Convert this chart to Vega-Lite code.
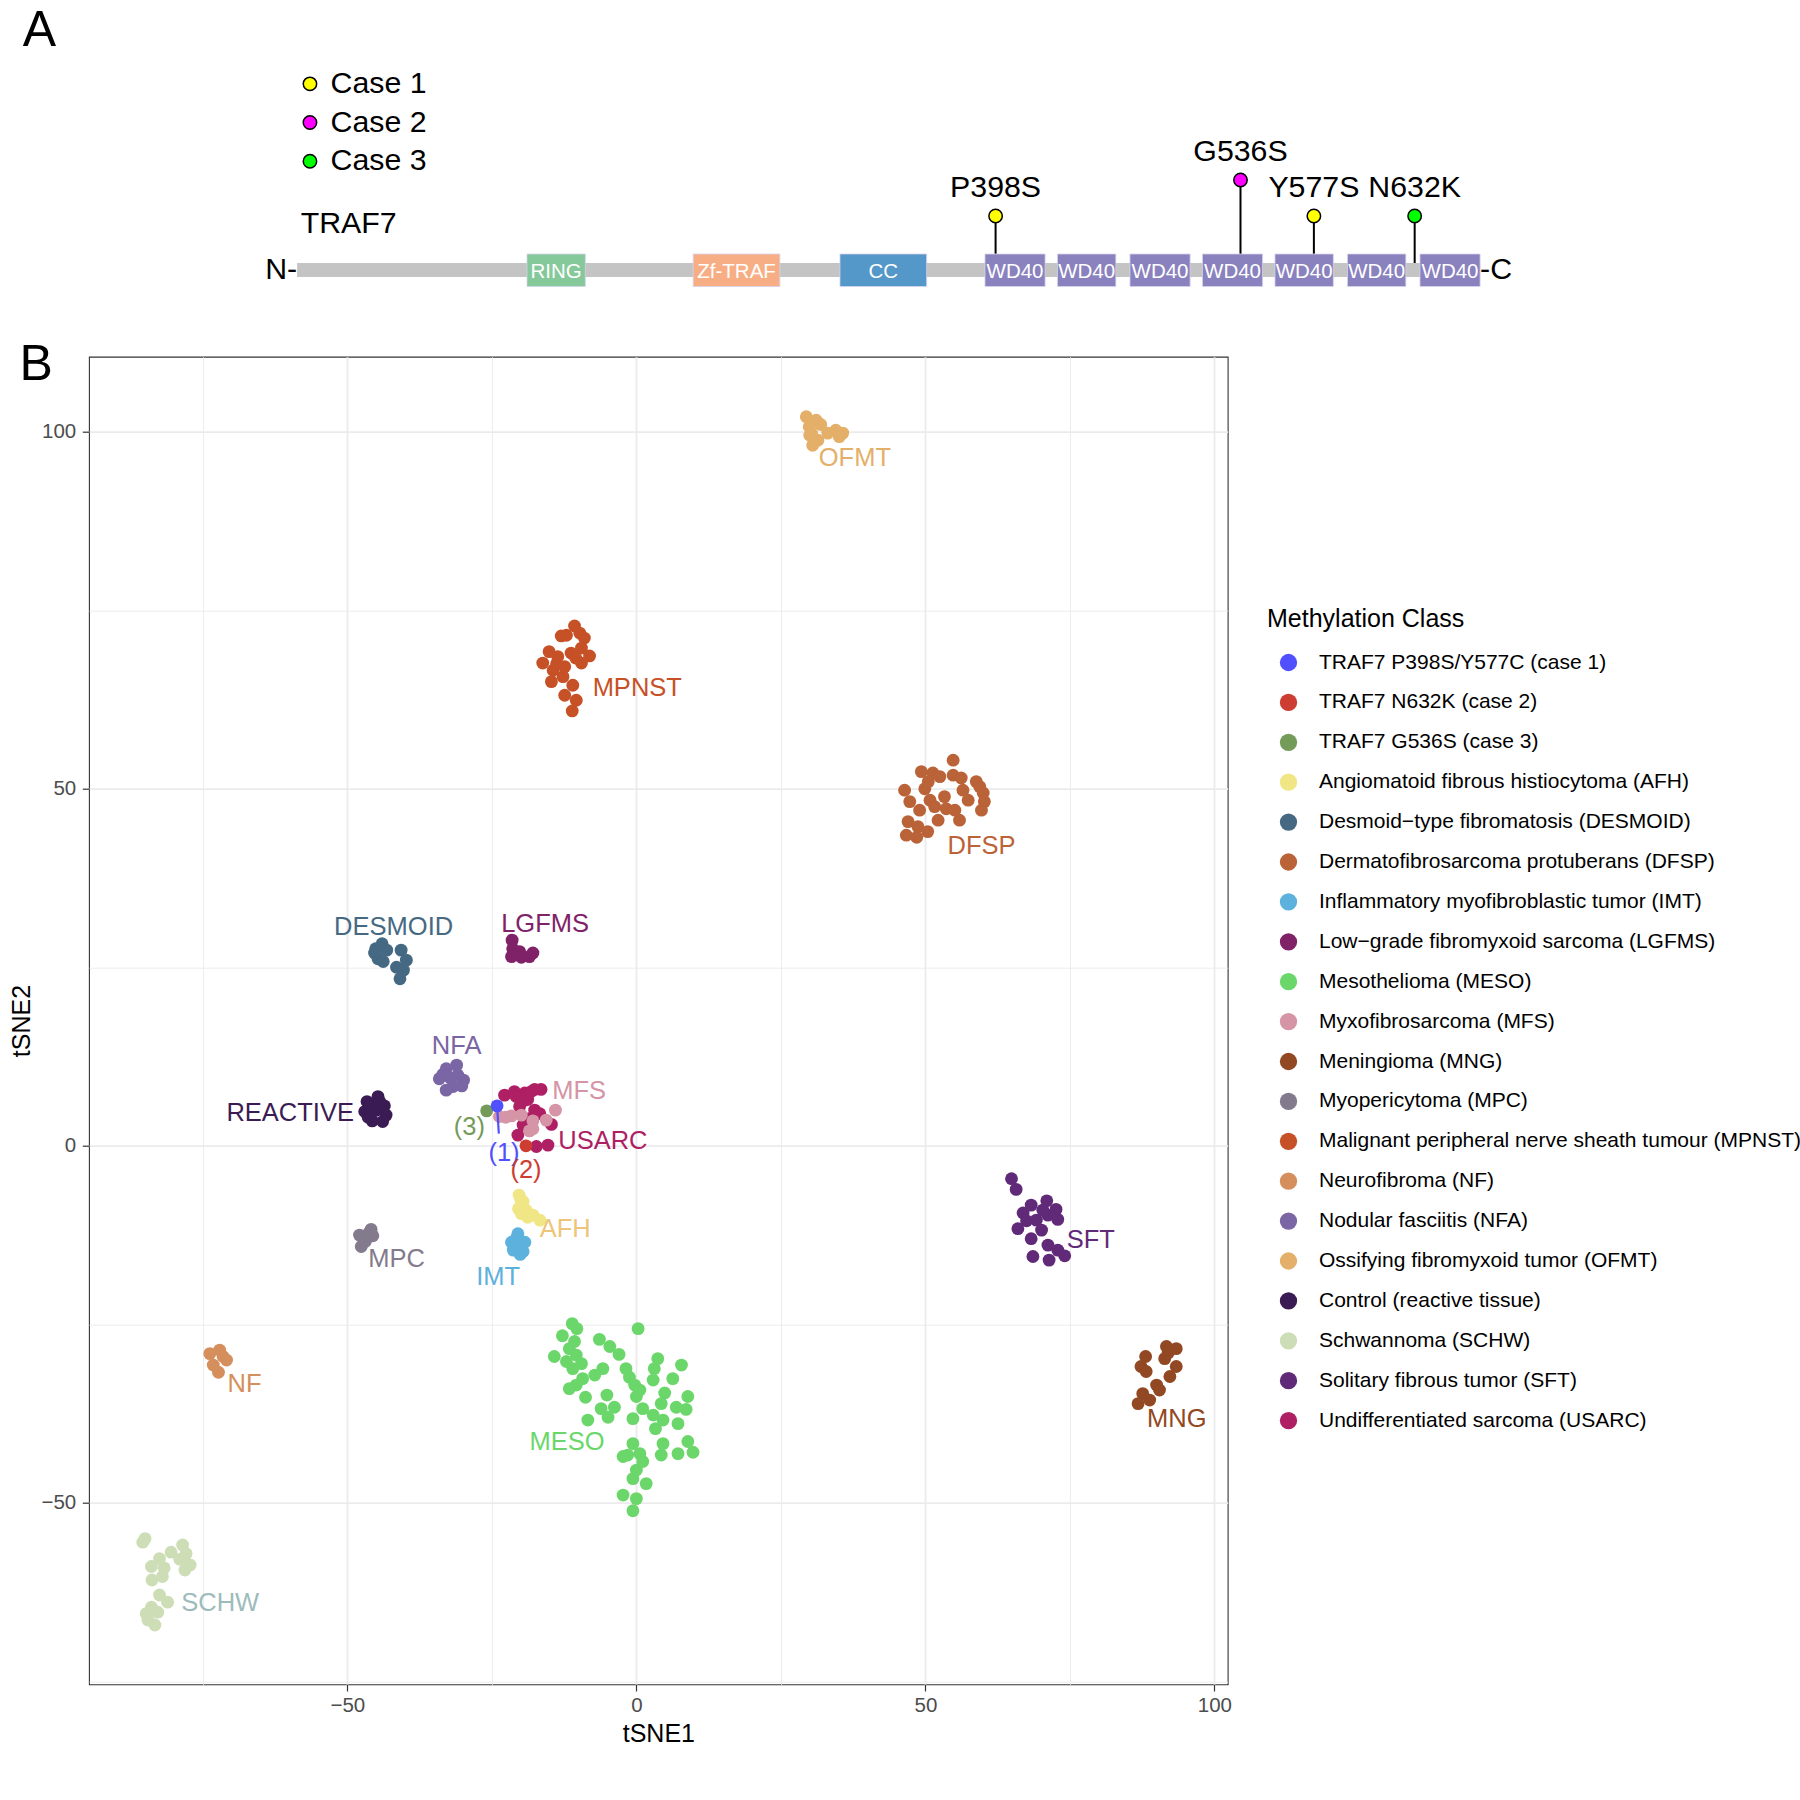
{
"$schema": "https://vega.github.io/schema/vega-lite/v6.json",
"padding": {"left": 9, "top": 0, "right": 5, "bottom": 5},
"background": "white",
"bounds": "flush",
"spacing": 56.7,
"config": {
  "font": "Liberation Sans",
  "view": {"stroke": "#333333", "strokeWidth": 1.1},
  "title": {"fontWeight": "normal", "color": "black"}
},
"resolve": {
  "scale": {"x": "independent", "y": "independent", "color": "independent", "fill": "independent"},
  "legend": {"color": "independent", "fill": "independent"}
},
"datasets": {
  "dom": [
    {"d": "RING", "s": 131, "e": 164, "m": 147.5},
    {"d": "Zf-TRAF", "s": 225, "e": 274, "m": 249.5},
    {"d": "CC", "s": 308, "e": 357, "m": 332.5},
    {"d": "WD40", "s": 390, "e": 424, "m": 407},
    {"d": "WD40", "s": 431, "e": 464, "m": 447.5},
    {"d": "WD40", "s": 472, "e": 506, "m": 489},
    {"d": "WD40", "s": 513, "e": 547, "m": 530},
    {"d": "WD40", "s": 554, "e": 587, "m": 570.5},
    {"d": "WD40", "s": 595, "e": 628, "m": 611.5},
    {"d": "WD40", "s": 636, "e": 670, "m": 653}
  ],
  "mut": [
    {"t": "P398S", "p": 396, "h": 54, "case": "Case 1"},
    {"t": "G536S", "p": 534.5, "h": 90, "case": "Case 2"},
    {"t": "Y577S", "p": 576, "h": 54, "case": "Case 1"},
    {"t": "N632K", "p": 633, "h": 54, "case": "Case 3"}
  ],
  "classes": [
    {"c": "C1", "name": "TRAF7 P398S/Y577C (case 1)"},
    {"c": "C2", "name": "TRAF7 N632K (case 2)"},
    {"c": "C3", "name": "TRAF7 G536S (case 3)"},
    {"c": "AFH", "name": "Angiomatoid fibrous histiocytoma (AFH)"},
    {"c": "DESMOID", "name": "Desmoid−type fibromatosis (DESMOID)"},
    {"c": "DFSP", "name": "Dermatofibrosarcoma protuberans (DFSP)"},
    {"c": "IMT", "name": "Inflammatory myofibroblastic tumor (IMT)"},
    {"c": "LGFMS", "name": "Low−grade fibromyxoid sarcoma (LGFMS)"},
    {"c": "MESO", "name": "Mesothelioma (MESO)"},
    {"c": "MFS", "name": "Myxofibrosarcoma (MFS)"},
    {"c": "MNG", "name": "Meningioma (MNG)"},
    {"c": "MPC", "name": "Myopericytoma (MPC)"},
    {"c": "MPNST", "name": "Malignant peripheral nerve sheath tumour (MPNST)"},
    {"c": "NF", "name": "Neurofibroma (NF)"},
    {"c": "NFA", "name": "Nodular fasciitis (NFA)"},
    {"c": "OFMT", "name": "Ossifying fibromyxoid tumor (OFMT)"},
    {"c": "REACTIVE", "name": "Control (reactive tissue)"},
    {"c": "SCHW", "name": "Schwannoma (SCHW)"},
    {"c": "SFT", "name": "Solitary fibrous tumor (SFT)"},
    {"c": "USARC", "name": "Undifferentiated sarcoma (USARC)"}
  ],
  "labels": [
    {"t": "OFMT", "x": 37.8, "y": 96.3},
    {"t": "MPNST", "x": 0.15, "y": 64.1},
    {"t": "DFSP", "x": 59.7, "y": 42.0},
    {"t": "DESMOID", "x": -42.0, "y": 30.7},
    {"t": "LGFMS", "x": -15.8, "y": 31.0},
    {"t": "NFA", "x": -31.1, "y": 14.0},
    {"t": "REACTIVE", "x": -59.9, "y": 4.6},
    {"t": "MFS", "x": -9.9, "y": 7.7},
    {"t": "USARC", "x": -5.8, "y": 0.7},
    {"t": "(3)", "x": -28.9, "y": 2.6},
    {"t": "(1)", "x": -22.9, "y": -1.0},
    {"t": "(2)", "x": -19.1, "y": -3.4},
    {"t": "AFH", "x": -12.3, "y": -11.7},
    {"t": "IMT", "x": -23.9, "y": -18.3},
    {"t": "MPC", "x": -41.5, "y": -15.9},
    {"t": "SFT", "x": 78.6, "y": -13.2},
    {"t": "MESO", "x": -12.0, "y": -41.5},
    {"t": "NF", "x": -67.8, "y": -33.3},
    {"t": "MNG", "x": 93.5, "y": -38.3},
    {"t": "SCHW", "x": -72.0, "y": -64.0}
  ],
  "pts": [
    {"x": -46.6, "y": 6.2, "c": "REACTIVE"}, {"x": -44.7, "y": 6.9, "c": "REACTIVE"}, {"x": -43.6, "y": 5.6, "c": "REACTIVE"},
    {"x": -47.0, "y": 4.8, "c": "REACTIVE"}, {"x": -45.0, "y": 5.0, "c": "REACTIVE"}, {"x": -43.3, "y": 4.3, "c": "REACTIVE"},
    {"x": -45.7, "y": 3.5, "c": "REACTIVE"}, {"x": -43.9, "y": 3.4, "c": "REACTIVE"}, {"x": -46.0, "y": 5.7, "c": "REACTIVE"},
    {"x": -44.4, "y": 6.2, "c": "REACTIVE"}, {"x": -46.4, "y": 4.0, "c": "REACTIVE"},
    {"x": -34.1, "y": 9.4, "c": "NFA"}, {"x": -32.9, "y": 10.8, "c": "NFA"}, {"x": -31.1, "y": 11.3, "c": "NFA"},
    {"x": -29.9, "y": 9.2, "c": "NFA"}, {"x": -31.7, "y": 8.3, "c": "NFA"}, {"x": -32.9, "y": 7.8, "c": "NFA"},
    {"x": -30.9, "y": 9.9, "c": "NFA"}, {"x": -33.5, "y": 10.0, "c": "NFA"}, {"x": -30.2, "y": 8.4, "c": "NFA"},
    {"x": -32.2, "y": 9.5, "c": "NFA"},
    {"x": -47.9, "y": -12.5, "c": "MPC"}, {"x": -45.9, "y": -11.7, "c": "MPC"}, {"x": -46.7, "y": -13.0, "c": "MPC"},
    {"x": -47.6, "y": -14.1, "c": "MPC"}, {"x": -45.6, "y": -12.6, "c": "MPC"}, {"x": -46.9, "y": -13.4, "c": "MPC"},
    {"x": -46.3, "y": -12.2, "c": "MPC"},
    {"x": -20.5, "y": -12.3, "c": "IMT"}, {"x": -21.6, "y": -13.5, "c": "IMT"}, {"x": -19.3, "y": -13.5, "c": "IMT"},
    {"x": -21.3, "y": -14.6, "c": "IMT"}, {"x": -19.6, "y": -14.8, "c": "IMT"}, {"x": -20.5, "y": -14.1, "c": "IMT"},
    {"x": -20.8, "y": -13.0, "c": "IMT"}, {"x": -20.1, "y": -15.2, "c": "IMT"},
    {"x": -20.3, "y": -6.9, "c": "AFH"}, {"x": -19.6, "y": -7.8, "c": "AFH"}, {"x": -20.4, "y": -8.8, "c": "AFH"},
    {"x": -19.1, "y": -9.0, "c": "AFH"}, {"x": -17.9, "y": -9.7, "c": "AFH"}, {"x": -16.7, "y": -10.4, "c": "AFH"},
    {"x": -18.8, "y": -10.0, "c": "AFH"}, {"x": -19.9, "y": -9.5, "c": "AFH"}, {"x": -20.0, "y": -7.5, "c": "AFH"},
    {"x": -22.8, "y": 7.1, "c": "USARC"}, {"x": -21.1, "y": 7.6, "c": "USARC"}, {"x": -19.3, "y": 7.4, "c": "USARC"},
    {"x": -17.6, "y": 7.9, "c": "USARC"}, {"x": -16.5, "y": 7.9, "c": "USARC"}, {"x": -18.8, "y": 6.5, "c": "USARC"},
    {"x": -20.2, "y": 5.5, "c": "USARC"}, {"x": -17.6, "y": 5.0, "c": "USARC"}, {"x": -16.7, "y": 4.5, "c": "USARC"},
    {"x": -18.5, "y": 3.8, "c": "USARC"}, {"x": -19.6, "y": 2.9, "c": "USARC"}, {"x": -14.7, "y": 3.0, "c": "USARC"},
    {"x": -20.5, "y": 1.5, "c": "USARC"}, {"x": -17.3, "y": -0.1, "c": "USARC"}, {"x": -15.3, "y": 0.1, "c": "USARC"},
    {"x": -19.3, "y": 6.4, "c": "USARC"}, {"x": -20.8, "y": 6.9, "c": "USARC"}, {"x": -18.2, "y": 7.6, "c": "USARC"},
    {"x": -23.7, "y": 4.1, "c": "MFS"}, {"x": -21.6, "y": 4.2, "c": "MFS"}, {"x": -19.9, "y": 4.3, "c": "MFS"},
    {"x": -17.9, "y": 3.5, "c": "MFS"}, {"x": -15.6, "y": 3.6, "c": "MFS"}, {"x": -14.0, "y": 5.0, "c": "MFS"},
    {"x": -18.5, "y": 2.1, "c": "MFS"}, {"x": -17.9, "y": 2.4, "c": "MFS"}, {"x": -22.6, "y": 4.0, "c": "MFS"},
    {"x": -45.1, "y": 27.6, "c": "DESMOID"}, {"x": -44.0, "y": 28.3, "c": "DESMOID"}, {"x": -43.2, "y": 27.4, "c": "DESMOID"},
    {"x": -44.7, "y": 26.2, "c": "DESMOID"}, {"x": -43.8, "y": 25.8, "c": "DESMOID"}, {"x": -40.7, "y": 27.4, "c": "DESMOID"},
    {"x": -39.8, "y": 26.0, "c": "DESMOID"}, {"x": -41.5, "y": 25.0, "c": "DESMOID"}, {"x": -40.3, "y": 24.6, "c": "DESMOID"},
    {"x": -40.9, "y": 23.4, "c": "DESMOID"}, {"x": -45.3, "y": 27.0, "c": "DESMOID"},
    {"x": -21.5, "y": 28.8, "c": "LGFMS"}, {"x": -21.4, "y": 27.6, "c": "LGFMS"}, {"x": -20.2, "y": 27.2, "c": "LGFMS"},
    {"x": -21.6, "y": 26.5, "c": "LGFMS"}, {"x": -19.9, "y": 26.4, "c": "LGFMS"}, {"x": -17.9, "y": 27.0, "c": "LGFMS"},
    {"x": -18.5, "y": 26.5, "c": "LGFMS"},
    {"x": -10.7, "y": 72.8, "c": "MPNST"}, {"x": -13.0, "y": 71.4, "c": "MPNST"}, {"x": -12.1, "y": 71.5, "c": "MPNST"},
    {"x": -9.8, "y": 71.8, "c": "MPNST"}, {"x": -9.0, "y": 71.1, "c": "MPNST"}, {"x": -15.1, "y": 69.2, "c": "MPNST"},
    {"x": -16.2, "y": 67.6, "c": "MPNST"}, {"x": -13.6, "y": 68.5, "c": "MPNST"}, {"x": -11.3, "y": 69.0, "c": "MPNST"},
    {"x": -9.5, "y": 69.7, "c": "MPNST"}, {"x": -8.1, "y": 68.6, "c": "MPNST"}, {"x": -9.5, "y": 67.6, "c": "MPNST"},
    {"x": -14.4, "y": 66.6, "c": "MPNST"}, {"x": -12.4, "y": 67.1, "c": "MPNST"}, {"x": -12.7, "y": 65.7, "c": "MPNST"},
    {"x": -14.7, "y": 65.0, "c": "MPNST"}, {"x": -11.0, "y": 64.5, "c": "MPNST"}, {"x": -12.4, "y": 63.1, "c": "MPNST"},
    {"x": -10.4, "y": 62.4, "c": "MPNST"}, {"x": -11.1, "y": 60.9, "c": "MPNST"}, {"x": -10.5, "y": 68.3, "c": "MPNST"},
    {"x": -13.8, "y": 67.5, "c": "MPNST"},
    {"x": 54.8, "y": 54.0, "c": "DFSP"}, {"x": 49.3, "y": 52.4, "c": "DFSP"}, {"x": 51.3, "y": 52.2, "c": "DFSP"},
    {"x": 52.5, "y": 51.7, "c": "DFSP"}, {"x": 54.8, "y": 51.9, "c": "DFSP"}, {"x": 56.2, "y": 51.5, "c": "DFSP"},
    {"x": 58.8, "y": 51.0, "c": "DFSP"}, {"x": 59.4, "y": 50.3, "c": "DFSP"}, {"x": 46.4, "y": 49.8, "c": "DFSP"},
    {"x": 49.9, "y": 50.0, "c": "DFSP"}, {"x": 53.3, "y": 48.9, "c": "DFSP"}, {"x": 56.5, "y": 49.8, "c": "DFSP"},
    {"x": 60.0, "y": 49.4, "c": "DFSP"}, {"x": 60.2, "y": 48.2, "c": "DFSP"}, {"x": 47.3, "y": 48.2, "c": "DFSP"},
    {"x": 50.8, "y": 48.4, "c": "DFSP"}, {"x": 51.6, "y": 47.5, "c": "DFSP"}, {"x": 57.4, "y": 48.4, "c": "DFSP"},
    {"x": 49.0, "y": 47.0, "c": "DFSP"}, {"x": 53.6, "y": 47.2, "c": "DFSP"}, {"x": 55.1, "y": 47.0, "c": "DFSP"},
    {"x": 59.7, "y": 47.0, "c": "DFSP"}, {"x": 47.0, "y": 45.4, "c": "DFSP"}, {"x": 52.2, "y": 45.6, "c": "DFSP"},
    {"x": 55.9, "y": 45.6, "c": "DFSP"}, {"x": 48.7, "y": 44.7, "c": "DFSP"}, {"x": 50.4, "y": 44.0, "c": "DFSP"},
    {"x": 46.7, "y": 43.5, "c": "DFSP"}, {"x": 48.5, "y": 43.2, "c": "DFSP"}, {"x": 50.5, "y": 51.0, "c": "DFSP"},
    {"x": 29.4, "y": 102.1, "c": "OFMT"}, {"x": 31.1, "y": 101.6, "c": "OFMT"}, {"x": 31.9, "y": 101.0, "c": "OFMT"},
    {"x": 29.9, "y": 100.7, "c": "OFMT"}, {"x": 30.3, "y": 99.8, "c": "OFMT"}, {"x": 31.4, "y": 98.8, "c": "OFMT"},
    {"x": 30.5, "y": 98.1, "c": "OFMT"}, {"x": 33.1, "y": 99.8, "c": "OFMT"}, {"x": 34.5, "y": 100.2, "c": "OFMT"},
    {"x": 35.7, "y": 99.8, "c": "OFMT"}, {"x": 35.1, "y": 99.3, "c": "OFMT"}, {"x": 30.0, "y": 99.5, "c": "OFMT"},
    {"x": 64.9, "y": -4.6, "c": "SFT"}, {"x": 65.7, "y": -6.1, "c": "SFT"}, {"x": 68.3, "y": -8.3, "c": "SFT"},
    {"x": 66.9, "y": -9.4, "c": "SFT"}, {"x": 71.0, "y": -7.7, "c": "SFT"}, {"x": 72.6, "y": -8.9, "c": "SFT"},
    {"x": 66.0, "y": -11.6, "c": "SFT"}, {"x": 69.2, "y": -10.4, "c": "SFT"}, {"x": 71.2, "y": -9.7, "c": "SFT"},
    {"x": 72.9, "y": -10.3, "c": "SFT"}, {"x": 68.3, "y": -13.0, "c": "SFT"}, {"x": 70.1, "y": -11.8, "c": "SFT"},
    {"x": 71.2, "y": -13.9, "c": "SFT"}, {"x": 68.6, "y": -15.5, "c": "SFT"}, {"x": 71.4, "y": -16.0, "c": "SFT"},
    {"x": 74.1, "y": -15.4, "c": "SFT"}, {"x": 72.9, "y": -14.6, "c": "SFT"}, {"x": 70.3, "y": -9.0, "c": "SFT"},
    {"x": 67.5, "y": -10.5, "c": "SFT"},
    {"x": 91.7, "y": -28.1, "c": "MNG"}, {"x": 93.4, "y": -28.4, "c": "MNG"}, {"x": 88.1, "y": -29.5, "c": "MNG"},
    {"x": 91.4, "y": -29.8, "c": "MNG"}, {"x": 87.3, "y": -30.9, "c": "MNG"}, {"x": 93.4, "y": -30.9, "c": "MNG"},
    {"x": 88.2, "y": -31.6, "c": "MNG"}, {"x": 92.3, "y": -32.3, "c": "MNG"}, {"x": 90.0, "y": -33.5, "c": "MNG"},
    {"x": 90.5, "y": -34.2, "c": "MNG"}, {"x": 87.6, "y": -34.7, "c": "MNG"}, {"x": 88.8, "y": -35.6, "c": "MNG"},
    {"x": 86.8, "y": -36.1, "c": "MNG"}, {"x": 92.0, "y": -29.0, "c": "MNG"},
    {"x": -73.8, "y": -29.1, "c": "NF"}, {"x": -72.1, "y": -28.6, "c": "NF"}, {"x": -70.9, "y": -30.0, "c": "NF"},
    {"x": -73.2, "y": -30.7, "c": "NF"}, {"x": -72.3, "y": -31.7, "c": "NF"}, {"x": -71.5, "y": -29.5, "c": "NF"},
    {"x": -85.4, "y": -55.5, "c": "SCHW"}, {"x": -80.5, "y": -56.9, "c": "SCHW"}, {"x": -78.5, "y": -55.9, "c": "SCHW"},
    {"x": -77.9, "y": -57.1, "c": "SCHW"}, {"x": -82.5, "y": -57.8, "c": "SCHW"}, {"x": -83.9, "y": -58.9, "c": "SCHW"},
    {"x": -79.0, "y": -57.9, "c": "SCHW"}, {"x": -77.2, "y": -58.7, "c": "SCHW"}, {"x": -81.7, "y": -59.1, "c": "SCHW"},
    {"x": -78.1, "y": -59.4, "c": "SCHW"}, {"x": -82.0, "y": -60.3, "c": "SCHW"}, {"x": -83.8, "y": -60.8, "c": "SCHW"},
    {"x": -82.5, "y": -62.9, "c": "SCHW"}, {"x": -81.1, "y": -63.9, "c": "SCHW"}, {"x": -83.9, "y": -64.6, "c": "SCHW"},
    {"x": -84.8, "y": -65.5, "c": "SCHW"}, {"x": -82.8, "y": -65.3, "c": "SCHW"}, {"x": -84.5, "y": -66.4, "c": "SCHW"},
    {"x": -83.3, "y": -67.1, "c": "SCHW"}, {"x": -85.0, "y": -55.0, "c": "SCHW"},
    {"x": -11.1, "y": -24.9, "c": "MESO"}, {"x": -10.3, "y": -25.6, "c": "MESO"}, {"x": -12.8, "y": -26.6, "c": "MESO"},
    {"x": -10.7, "y": -27.4, "c": "MESO"}, {"x": -11.6, "y": -28.4, "c": "MESO"}, {"x": -14.2, "y": -29.5, "c": "MESO"},
    {"x": -10.4, "y": -29.3, "c": "MESO"}, {"x": -12.1, "y": -30.2, "c": "MESO"}, {"x": -9.5, "y": -30.5, "c": "MESO"},
    {"x": -11.0, "y": -31.2, "c": "MESO"}, {"x": -6.4, "y": -27.1, "c": "MESO"}, {"x": -4.6, "y": -28.1, "c": "MESO"},
    {"x": -3.0, "y": -29.2, "c": "MESO"}, {"x": -5.8, "y": -31.2, "c": "MESO"}, {"x": -7.2, "y": -32.1, "c": "MESO"},
    {"x": -9.3, "y": -32.6, "c": "MESO"}, {"x": -10.4, "y": -33.5, "c": "MESO"}, {"x": -11.6, "y": -34.0, "c": "MESO"},
    {"x": -8.8, "y": -35.2, "c": "MESO"}, {"x": -5.1, "y": -34.9, "c": "MESO"}, {"x": -3.8, "y": -36.6, "c": "MESO"},
    {"x": -6.1, "y": -36.8, "c": "MESO"}, {"x": -4.9, "y": -38.0, "c": "MESO"}, {"x": -8.4, "y": -38.4, "c": "MESO"},
    {"x": 0.3, "y": -25.6, "c": "MESO"}, {"x": -1.8, "y": -31.2, "c": "MESO"}, {"x": -1.2, "y": -32.4, "c": "MESO"},
    {"x": -0.3, "y": -33.5, "c": "MESO"}, {"x": 0.6, "y": -34.2, "c": "MESO"}, {"x": 0.0, "y": -35.1, "c": "MESO"},
    {"x": 1.1, "y": -36.8, "c": "MESO"}, {"x": -0.6, "y": -38.2, "c": "MESO"}, {"x": 2.9, "y": -37.7, "c": "MESO"},
    {"x": 3.7, "y": -29.8, "c": "MESO"}, {"x": 3.1, "y": -31.2, "c": "MESO"}, {"x": 2.9, "y": -32.8, "c": "MESO"},
    {"x": 4.9, "y": -34.6, "c": "MESO"}, {"x": 4.3, "y": -36.1, "c": "MESO"}, {"x": 4.6, "y": -38.4, "c": "MESO"},
    {"x": 3.3, "y": -39.6, "c": "MESO"}, {"x": 7.8, "y": -30.7, "c": "MESO"}, {"x": 6.3, "y": -32.6, "c": "MESO"},
    {"x": 8.9, "y": -35.1, "c": "MESO"}, {"x": 6.9, "y": -36.6, "c": "MESO"}, {"x": 8.6, "y": -36.9, "c": "MESO"},
    {"x": 7.2, "y": -38.9, "c": "MESO"}, {"x": -0.6, "y": -41.7, "c": "MESO"}, {"x": -2.3, "y": -43.5, "c": "MESO"},
    {"x": 0.6, "y": -43.1, "c": "MESO"}, {"x": 1.1, "y": -44.2, "c": "MESO"}, {"x": 0.0, "y": -45.4, "c": "MESO"},
    {"x": -0.6, "y": -46.6, "c": "MESO"}, {"x": 1.7, "y": -47.3, "c": "MESO"}, {"x": -2.3, "y": -48.9, "c": "MESO"},
    {"x": 0.0, "y": -49.4, "c": "MESO"}, {"x": -0.6, "y": -51.1, "c": "MESO"}, {"x": 4.6, "y": -41.7, "c": "MESO"},
    {"x": 4.3, "y": -43.3, "c": "MESO"}, {"x": 7.2, "y": -43.1, "c": "MESO"}, {"x": 8.9, "y": -41.4, "c": "MESO"},
    {"x": 9.8, "y": -42.9, "c": "MESO"}, {"x": -1.5, "y": -43.3, "c": "MESO"},
    {"x": -25.9, "y": 4.9, "c": "C3"}, {"x": -24.1, "y": 5.6, "c": "C1"}, {"x": -19.1, "y": 0.0, "c": "C2"}
  ]
},
"vconcat": [
  {
    "width": 1430,
    "height": 300,
    "view": {"stroke": null},
    "title": {"text": "A", "fontSize": 50, "anchor": "start", "frame": "group", "dx": -66.3, "offset": -96, "baseline": "alphabetic"},
    "layer": [
      {
        "data": {"name": "mut"},
        "mark": {"type": "rule", "color": "black", "strokeWidth": 2},
        "encoding": {
          "x": {"field": "p", "type": "quantitative", "scale": {"domain": [-116.7, 692], "nice": false, "zero": false}, "axis": null},
          "y": {"field": "h", "type": "quantitative", "scale": {"domain": [-30, 270], "nice": false, "zero": false}, "axis": null},
          "y2": {"datum": 0}
        }
      },
      {
        "data": {"values": [{"s": 1, "e": 670}]},
        "mark": {"type": "rect", "color": "#C4C4C4"},
        "encoding": {
          "x": {"field": "s", "type": "quantitative"},
          "x2": {"field": "e"},
          "y": {"datum": -7, "type": "quantitative"},
          "y2": {"datum": 7}
        }
      },
      {
        "data": {"name": "dom"},
        "mark": {"type": "rect", "stroke": "#d6d3ec", "strokeWidth": 0.8},
        "encoding": {
          "x": {"field": "s", "type": "quantitative"},
          "x2": {"field": "e"},
          "y": {"datum": -16.5, "type": "quantitative"},
          "y2": {"datum": 16},
          "color": {"field": "d", "type": "nominal", "scale": {"domain": ["RING", "Zf-TRAF", "CC", "WD40"], "range": ["#85C99A", "#F8AE84", "#5497C9", "#8A82BE"]}, "legend": null}
        }
      },
      {
        "data": {"name": "dom"},
        "mark": {"type": "text", "color": "white", "fontSize": 20.5, "baseline": "middle", "dy": 1.5},
        "encoding": {
          "x": {"field": "m", "type": "quantitative"},
          "y": {"datum": 0, "type": "quantitative"},
          "text": {"field": "d"}
        }
      },
      {
        "data": {"name": "mut"},
        "mark": {"type": "circle", "size": 180, "stroke": "black", "strokeWidth": 1.5, "opacity": 1},
        "encoding": {
          "x": {"field": "p", "type": "quantitative"},
          "y": {"field": "h", "type": "quantitative"},
          "fill": {
            "field": "case", "type": "nominal",
            "scale": {"domain": ["Case 1", "Case 2", "Case 3"], "range": ["#FFFF00", "#FF00FF", "#00FF00"]},
            "legend": {"title": null, "orient": "none", "legendX": 205.8, "legendY": 68.7, "padding": 0,
              "labelFontSize": 30.3, "labelColor": "black", "labelOffset": 5.5, "rowPadding": 7.7,
              "symbolType": "circle", "symbolSize": 180, "symbolStrokeColor": "black", "symbolStrokeWidth": 1.5, "symbolOpacity": 1}
          }
        }
      },
      {
        "data": {"name": "mut"},
        "mark": {"type": "text", "fontSize": 30.3, "baseline": "middle", "dy": -28.4, "color": "black"},
        "encoding": {
          "x": {"field": "p", "type": "quantitative"},
          "y": {"field": "h", "type": "quantitative"},
          "text": {"field": "t"}
        }
      },
      {
        "data": {"values": [{"t": "N-", "p": 1, "h": 0}]},
        "mark": {"type": "text", "fontSize": 30.3, "baseline": "middle", "align": "right", "color": "black"},
        "encoding": {
          "x": {"field": "p", "type": "quantitative"},
          "y": {"field": "h", "type": "quantitative"},
          "text": {"field": "t"}
        }
      },
      {
        "data": {"values": [{"t": "-C", "p": 670, "h": 0}, {"t": "TRAF7", "p": 3, "h": 46}]},
        "mark": {"type": "text", "fontSize": 30.3, "baseline": "middle", "align": "left", "color": "black"},
        "encoding": {
          "x": {"field": "p", "type": "quantitative"},
          "y": {"field": "h", "type": "quantitative"},
          "text": {"field": "t"}
        }
      }
    ]
  },
  {
    "width": 1138.7,
    "height": 1327.6,
    "title": {"text": "B", "fontSize": 50, "anchor": "start", "frame": "group", "dx": -69.5, "offset": -73.3, "baseline": "alphabetic"},
    "layer": [
      {
        "data": {"name": "pts"},
        "transform": [{"lookup": "c", "from": {"data": {"name": "classes"}, "key": "c", "fields": ["name"]}}],
        "mark": {"type": "circle", "size": 165, "opacity": 1},
        "encoding": {
          "x": {
            "field": "x", "type": "quantitative",
            "scale": {"domain": [-94.7, 102.3], "nice": false, "zero": false},
            "axis": {
              "title": "tSNE1", "values": [-75, -50, -25, 0, 25, 50, 75, 100],
              "labelExpr": "datum.value % 50 === 0 ? datum.label : ''",
              "grid": true, "gridColor": "#EBEBEB",
              "gridWidth": {"condition": {"test": "datum.value % 50 === 0", "value": 1.8}, "value": 0.9},
              "tickOpacity": {"condition": {"test": "datum.value % 50 === 0", "value": 1}, "value": 0},
              "tickColor": "#333333", "tickSize": 6.7, "tickWidth": 1.2, "domain": false,
              "labelFontSize": 20.5, "labelColor": "#4D4D4D", "labelPadding": 4, "labelOverlap": false, "labelFlush": false,
              "titleFontSize": 25, "titleFontWeight": "normal", "titleColor": "black", "titlePadding": 5.5
            }
          },
          "y": {
            "field": "y", "type": "quantitative",
            "scale": {"domain": [-75.4, 110.5], "nice": false, "zero": false},
            "axis": {
              "title": "tSNE2", "values": [-75, -50, -25, 0, 25, 50, 75, 100],
              "labelExpr": "datum.value % 50 === 0 ? datum.label : ''",
              "grid": true, "gridColor": "#EBEBEB",
              "gridWidth": {"condition": {"test": "datum.value % 50 === 0", "value": 1.8}, "value": 0.9},
              "tickOpacity": {"condition": {"test": "datum.value % 50 === 0", "value": 1}, "value": 0},
              "tickColor": "#333333", "tickSize": 6.7, "tickWidth": 1.2, "domain": false,
              "labelFontSize": 20.5, "labelColor": "#4D4D4D", "labelPadding": 6.6, "labelOverlap": false, "labelFlush": false,
              "titleFontSize": 25, "titleFontWeight": "normal", "titleColor": "black", "titlePadding": 6
            }
          },
          "color": {
            "field": "name", "type": "nominal", "title": "Methylation Class",
            "scale": {
              "domain": ["TRAF7 P398S/Y577C (case 1)", "TRAF7 N632K (case 2)", "TRAF7 G536S (case 3)", "Angiomatoid fibrous histiocytoma (AFH)", "Desmoid−type fibromatosis (DESMOID)", "Dermatofibrosarcoma protuberans (DFSP)", "Inflammatory myofibroblastic tumor (IMT)", "Low−grade fibromyxoid sarcoma (LGFMS)", "Mesothelioma (MESO)", "Myxofibrosarcoma (MFS)", "Meningioma (MNG)", "Myopericytoma (MPC)", "Malignant peripheral nerve sheath tumour (MPNST)", "Neurofibroma (NF)", "Nodular fasciitis (NFA)", "Ossifying fibromyxoid tumor (OFMT)", "Control (reactive tissue)", "Schwannoma (SCHW)", "Solitary fibrous tumor (SFT)", "Undifferentiated sarcoma (USARC)"],
              "range": ["#5050FF", "#CE3D32", "#749B58", "#F0E685", "#466983", "#BA6338", "#5DB1DD", "#802268", "#6BD76B", "#D595A7", "#924822", "#837B8D", "#C75127", "#D58F5C", "#7A65A5", "#E4AF69", "#3B1B53", "#CDDEB7", "#612A79", "#AE1F63"]
            },
            "legend": {
              "orient": "none", "legendX": 1178, "legendY": 249.9, "padding": 0,
              "titleFontSize": 25, "titleFontWeight": "normal", "titleColor": "black", "titlePadding": 20.4, "titleLimit": 1000,
              "labelFontSize": 21, "labelColor": "black", "labelLimit": 1000,
              "symbolType": "circle", "symbolSize": 300, "symbolOpacity": 1, "symbolStrokeWidth": 0,
              "symbolOffset": 11, "labelOffset": 20, "rowPadding": 17.9
            }
          }
        }
      },
      {
        "data": {"values": [{"x": -24.1, "y": 5.6, "x2": -23.8, "y2": 1.7}]},
        "mark": {"type": "rule", "color": "#5050FF", "strokeWidth": 2.2},
        "encoding": {
          "x": {"field": "x", "type": "quantitative"},
          "y": {"field": "y", "type": "quantitative"},
          "x2": {"field": "x2"},
          "y2": {"field": "y2"}
        }
      },
      {
        "data": {"name": "labels"},
        "mark": {"type": "text", "fontSize": 25.5, "baseline": "middle", "align": "center"},
        "encoding": {
          "x": {"field": "x", "type": "quantitative"},
          "y": {"field": "y", "type": "quantitative"},
          "text": {"field": "t"},
          "fill": {
            "field": "t", "type": "nominal", "legend": null,
            "scale": {
              "domain": ["OFMT", "MPNST", "DFSP", "DESMOID", "LGFMS", "NFA", "REACTIVE", "MFS", "USARC", "(3)", "(1)", "(2)", "AFH", "IMT", "MPC", "SFT", "MESO", "NF", "MNG", "SCHW"],
              "range": ["#E4AF69", "#C75127", "#BA6338", "#466983", "#802268", "#7A65A5", "#3B1B53", "#D595A7", "#AE1F63", "#749B58", "#5050FF", "#CE3D32", "#EDC57A", "#5DB1DD", "#837B8D", "#612A79", "#6BD76B", "#D58F5C", "#924822", "#9DBBBB"]
            }
          }
        }
      }
    ]
  }
]
}
